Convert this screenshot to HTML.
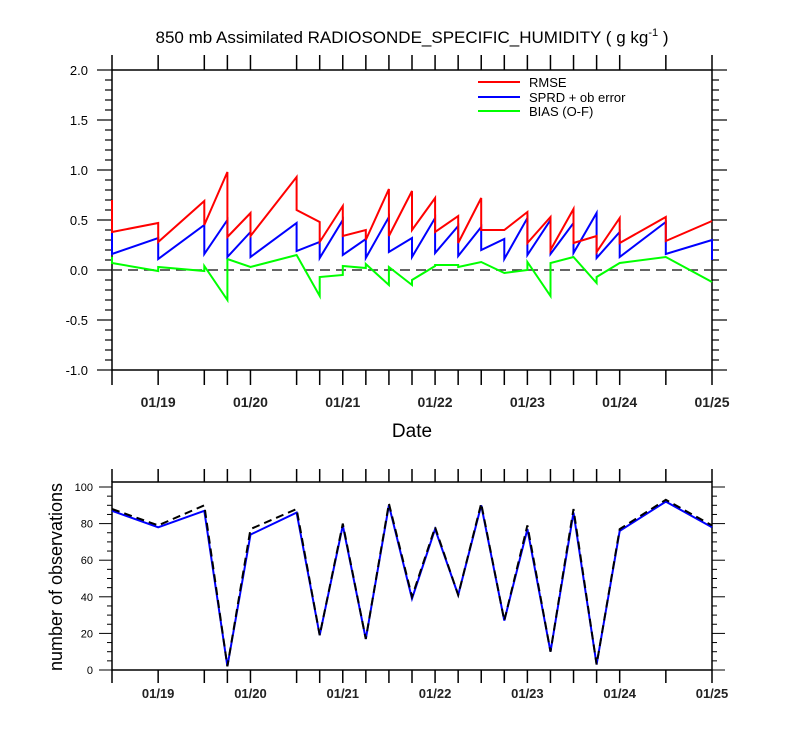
<!DOCTYPE html>
<html><head><meta charset="utf-8"><style>
html,body{margin:0;padding:0;background:#fff;}
svg{display:block;font-family:"Liberation Sans",Arial,sans-serif;}
</style></head><body>
<svg id="c" width="800" height="750" viewBox="0 0 800 750">
<text x="412" y="43" font-size="17" text-anchor="middle">850 mb Assimilated RADIOSONDE_SPECIFIC_HUMIDITY ( g kg<tspan dy="-7" font-size="11">-1</tspan><tspan dy="7"> )</tspan></text>
<text x="412" y="437" font-size="19" text-anchor="middle">Date</text>
<text transform="translate(62,577) rotate(-90)" font-size="18" text-anchor="middle">number of observations</text>
<g>
<line x1="478" y1="82" x2="520" y2="82" stroke="#f00" stroke-width="2"/>
<text x="529" y="87" font-size="13">RMSE</text>
<line x1="478" y1="97" x2="520" y2="97" stroke="#00f" stroke-width="2"/>
<text x="529" y="102" font-size="13">SPRD + ob error</text>
<line x1="478" y1="111" x2="520" y2="111" stroke="#0f0" stroke-width="2"/>
<text x="529" y="116" font-size="13">BIAS (O-F)</text>
</g>
</svg>
<script>
const times=[0,0.5,1,1.25,1.5,2,2.25,2.5,2.75,3,3.25,3.5,3.75,4,4.25,4.5,4.75,5,5.25,5.5,6,6.5];
const rmseArrive=[0.70,0.47,0.69,0.98,0.57,0.93,0.48,0.64,0.40,0.81,0.79,0.72,0.54,0.72,0.40,0.58,0.53,0.61,0.34,0.52,0.53,0.49];
const rmseLeave=[0.38,0.28,0.45,0.33,0.34,0.60,0.28,0.34,0.30,0.34,0.40,0.38,0.27,0.40,0.40,0.27,0.20,0.27,0.18,0.27,0.29,0.49];
const sprdArrive=[0.45,0.32,0.45,0.50,0.38,0.47,0.28,0.50,0.31,0.53,0.32,0.52,0.44,0.43,0.31,0.52,0.50,0.47,0.57,0.38,0.48,0.30];
const sprdLeave=[0.16,0.11,0.16,0.13,0.13,0.19,0.12,0.15,0.12,0.18,0.13,0.17,0.14,0.20,0.11,0.15,0.16,0.17,0.12,0.13,0.16,0.10];
const biasArrive=[0.13,-0.01,-0.01,-0.30,0.03,0.15,-0.26,-0.05,0.02,-0.15,-0.15,0.04,0.05,0.08,-0.03,0.00,-0.26,0.13,-0.13,0.07,0.13,-0.12];
const biasLeave=[0.07,0.03,0.04,0.11,0.03,0.15,-0.07,0.04,0.06,0.03,-0.10,0.05,0.03,0.08,-0.03,0.08,0.07,0.13,-0.07,0.07,0.13,-0.12];
const nobsUsed=[87,78,87,2,74,86,19,79,17,90,39,77,41,90,27,77,10,86,3,76,92,78];
const nobsPossible=[88,79,90,2,77,88,19,80,17,91,40,78,41,91,27,79,10,88,3,77,93,79];
const dayLabels=["01/19","01/20","01/21","01/22","01/23","01/24","01/25"];
const dayPositions=[0.5,1.5,2.5,3.5,4.5,5.5,6.5];
const topTicks=[-1.0,-0.5,0.0,0.5,1.0,1.5,2.0];
const botTicks=[0,20,40,60,80,100];

const NS="http://www.w3.org/2000/svg";
const svg=document.getElementById('c');
function el(tag,attrs,parent){const e=document.createElementNS(NS,tag);for(const k in attrs)e.setAttribute(k,attrs[k]);(parent||svg).appendChild(e);return e;}
const X0=112,X1=712;
const xs=t=>X0+(t/6.5)*(X1-X0);
const yTop=v=>370-(v+1)*100;
const yBot=v=>670-v*1.83;

// top panel
const gTop=el('g',{});


el('rect',{x:X0,y:70,width:600,height:300,fill:'none',stroke:'#000','stroke-width':1.5},gTop);
for(let v=-1.0;v<=2.0001;v+=0.1){const y=yTop(v);const major=Math.abs(v*2-Math.round(v*2))<1e-6;
 el('line',{x1:X0-(major?15:7),y1:y,x2:X0,y2:y,stroke:'#000','stroke-width':1.2},gTop);
 el('line',{x1:X1,y1:y,x2:X1+(major?15:7),y2:y,stroke:'#000','stroke-width':1.2},gTop);}
topTicks.forEach(v=>{const t=el('text',{x:88,y:yTop(v)+5,'font-size':13,'text-anchor':'end'},gTop);t.textContent=v.toFixed(1);
 
 });
times.forEach(t=>{const x=xs(t);el('line',{x1:x,y1:55,x2:x,y2:70,stroke:'#000','stroke-width':1.5},gTop);el('line',{x1:x,y1:370,x2:x,y2:385,stroke:'#000','stroke-width':1.5},gTop);});
dayLabels.forEach((d,i)=>{const t=el('text',{x:xs(dayPositions[i]),y:407,'font-size':14,'font-weight':'bold','text-anchor':'middle',fill:'#222'},gTop);t.textContent=d;
 
 });
el('line',{x1:X0,y1:yTop(0),x2:X1,y2:yTop(0),stroke:'#333','stroke-width':1.5,'stroke-dasharray':'10,6'},gTop);
function saw(arr1,arr2,color,name){let d='';times.forEach((t,i)=>{const x=xs(t).toFixed(1);d+=(i?'L':'M')+x+','+yTop(arr1[i]).toFixed(1)+'L'+x+','+yTop(arr2[i]).toFixed(1);});
 const p=el('path',{d:d,fill:'none',stroke:color,'stroke-width':2},gTop);
 
 }
saw(biasArrive,biasLeave,'#0f0','bias-line');
saw(sprdArrive,sprdLeave,'#00f','sprd-line');
saw(rmseArrive,rmseLeave,'#f00','rmse-line');

// bottom panel
const gB=el('g',{});


el('rect',{x:X0,y:482,width:600,height:188,fill:'none',stroke:'#000','stroke-width':1.5},gB);
for(let v=0;v<=100;v+=5){const y=yBot(v);const major=v%20===0;
 el('line',{x1:X0-(major?13:5),y1:y,x2:X0,y2:y,stroke:'#000','stroke-width':1},gB);
 el('line',{x1:X1,y1:y,x2:X1+(major?13:5),y2:y,stroke:'#000','stroke-width':1},gB);}
botTicks.forEach(v=>{const t=el('text',{x:93,y:yBot(v)+4,'font-size':11,'text-anchor':'end'},gB);t.textContent=v;
 
 });
times.forEach(t=>{const x=xs(t);el('line',{x1:x,y1:469,x2:x,y2:482,stroke:'#000','stroke-width':1.5},gB);el('line',{x1:x,y1:670,x2:x,y2:683,stroke:'#000','stroke-width':1.5},gB);});
dayLabels.forEach((d,i)=>{const t=el('text',{x:xs(dayPositions[i]),y:698,'font-size':13,'font-weight':'bold','text-anchor':'middle',fill:'#222'},gB);t.textContent=d;
 
 });
function line(arr,color,dash,name){const d=times.map((t,i)=>(i?'L':'M')+xs(t).toFixed(1)+','+yBot(arr[i]).toFixed(1)).join('');
 const a={d:d,fill:'none',stroke:color,'stroke-width':2};if(dash)a['stroke-dasharray']=dash;const p=el('path',a,gB);
 
 }
line(nobsUsed,'#00f',null,'obs-used-line');
line(nobsPossible,'#000','8,5','obs-possible-line');
</script>
</body></html>
